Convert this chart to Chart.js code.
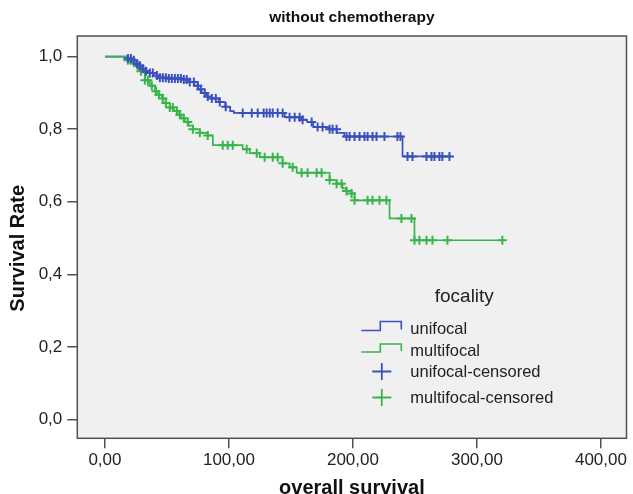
<!DOCTYPE html>
<html>
<head>
<meta charset="utf-8">
<script src="https://cdn.jsdelivr.net/npm/chart.js@4.4.0/dist/chart.umd.min.js"></script>
<style>
  html, body { margin: 0; padding: 0; background: #ffffff; }
  #wrap { width: 633px; height: 494px; }
</style>
</head>
<body>
<div id="wrap"><canvas id="c" width="633" height="494"></canvas></div>
<script>
// ---- data ----
const chartTitle = 'without chemotherapy';
const xTitle = 'overall survival';
const yTitle = 'Survival Rate';
const legendTitle = 'focality';
const seriesNames = ['unifocal', 'multifocal', 'unifocal-censored', 'multifocal-censored'];

const xTicks = [0, 100, 200, 300, 400];
const yTicks = [0, 0.2, 0.4, 0.6, 0.8, 1.0];

// unifocal Kaplan-Meier steps (time, survival after the step)
const uniTimes = [0, 18.5, 21, 24, 27, 30, 33, 36, 39, 43, 50, 62, 68, 72, 75, 78, 82, 86, 92, 97, 101, 104, 145, 158, 163, 168, 180, 187, 193, 240, 279.4];
const uniSurv  = [1, 0.995, 0.99, 0.98, 0.975, 0.967, 0.96, 0.955, 0.948, 0.942, 0.94, 0.937, 0.93, 0.92, 0.91, 0.90, 0.89, 0.885, 0.875, 0.862, 0.85, 0.845, 0.833, 0.826, 0.82, 0.806, 0.80, 0.79, 0.78, 0.725, 0.725];
const uniCensored = [18.5, 20.9, 23.3, 25.8, 28.2, 30.6, 33, 36.2, 38.6, 41.9, 44.3, 46.7, 49.1, 51.5, 53.9, 56.4, 58.8, 61.2, 63.6, 66, 68.4, 71.7, 74.9, 77.3, 80.5, 82.9, 86.2, 89.4, 92.6, 97.4, 111.1, 118.4, 123.2, 128, 130.4, 132.9, 135.3, 139.3, 143.3, 148.9, 153, 157, 159.4, 166.7, 171.5, 175.5, 181.2, 183.6, 186.8, 194.8, 197.3, 201.3, 205.3, 209.3, 211.8, 215.8, 219, 225.4, 235.9, 238.3, 244, 248, 259.3, 263.3, 265.7, 269.7, 272.1, 277.8];

// multifocal Kaplan-Meier steps
const multiTimes = [0, 18.5, 21, 24.2, 28.2, 32.2, 36.2, 40.3, 43, 45.9, 49, 52.3, 55.5, 58.8, 61.5, 64.4, 67.5, 70.9, 76.5, 82.9, 87, 111.1, 116.7, 124.8, 143.3, 148.9, 154.6, 181.2, 186.8, 191.6, 194.8, 198.9, 201.3, 229.5, 249.6, 322];
const multiSurv  = [1, 0.99, 0.983, 0.975, 0.96, 0.935, 0.92, 0.905, 0.895, 0.885, 0.872, 0.86, 0.85, 0.84, 0.83, 0.82, 0.81, 0.80, 0.79, 0.783, 0.756, 0.745, 0.734, 0.723, 0.706, 0.695, 0.68, 0.66, 0.65, 0.637, 0.63, 0.623, 0.604, 0.554, 0.494, 0.494];
const multiCensored = [18.5, 20.9, 23.3, 26.6, 29, 32.2, 34.6, 37.8, 41.1, 43.5, 46.7, 49.1, 52.3, 54.8, 58, 60.4, 63.6, 66.8, 70.9, 76.5, 82.9, 95, 99, 103.1, 114.3, 122.4, 128.8, 135.3, 139.3, 143.3, 151.4, 158.6, 163.4, 170.7, 174.7, 181.2, 186.8, 190.8, 194.8, 198.9, 201.3, 211.8, 215.8, 221.4, 227, 239.1, 247.2, 249.6, 253.6, 259.3, 264.1, 276.2, 320.5];

// ---- styling ----
const BLUE = '#3a50bd';
const GREEN = '#38b54a';
const FONT = '"Liberation Sans", Arial, Helvetica, sans-serif';

function stepAt(times, vals, t) {
  let v = vals[0];
  for (let i = 0; i < times.length; i++) { if (times[i] <= t + 1e-9) v = vals[i]; }
  return v;
}
const toXY = (ts, vs) => ts.map((t, i) => ({ x: t, y: vs[i] }));
const censorXY = (cs, ts, vs) => cs.map(t => ({ x: t, y: stepAt(ts, vs, t) }));

const plotBg = {
  id: 'plotBg',
  beforeDatasetsDraw(chart) {
    const { ctx, chartArea: a } = chart;
    ctx.save();
    ctx.fillStyle = '#f0f0f0';
    ctx.fillRect(a.left, a.top, a.right - a.left, a.bottom - a.top);
    ctx.restore();
  },
  afterDatasetsDraw(chart) {
    const { ctx, chartArea: a } = chart;
    ctx.save();
    ctx.strokeStyle = '#505050';
    ctx.lineWidth = 1.5;
    ctx.strokeRect(a.left, a.top, a.right - a.left, a.bottom - a.top);
    ctx.restore();
  }
};

const kmLegend = {
  id: 'kmLegend',
  afterDraw(chart) {
    const { ctx, chartArea: a } = chart;
    const L = a.left, T = a.top;
    ctx.save();
    ctx.fillStyle = '#222';
    ctx.textBaseline = 'alphabetic';
    ctx.font = '19px ' + FONT;
    ctx.textAlign = 'center';
    ctx.fillText(legendTitle, L + 387, T + 266);
    ctx.textAlign = 'left';
    ctx.font = '16.5px ' + FONT;
    const textX = L + 333;
    const baselines = [298, 320, 341, 367];
    seriesNames.forEach((n, i) => ctx.fillText(n, textX, T + baselines[i]));
    const stepIcon = (color, base, top) => {
      ctx.beginPath();
      ctx.strokeStyle = color;
      ctx.lineWidth = 1.6;
      ctx.moveTo(L + 284, T + base);
      ctx.lineTo(L + 303, T + base);
      ctx.lineTo(L + 303, T + top);
      ctx.lineTo(L + 324, T + top);
      ctx.lineTo(L + 324, T + base - 1);
      ctx.stroke();
    };
    stepIcon(BLUE, 294.5, 285.5);
    stepIcon(GREEN, 316, 308);
    const cross = (color, cy) => {
      ctx.beginPath();
      ctx.strokeStyle = color;
      ctx.lineWidth = 1.8;
      ctx.moveTo(L + 295, T + cy); ctx.lineTo(L + 314, T + cy);
      ctx.moveTo(L + 304.5, T + cy - 8.5); ctx.lineTo(L + 304.5, T + cy + 8.5);
      ctx.stroke();
    };
    cross(BLUE, 335.5);
    cross(GREEN, 361.5);
    ctx.restore();
  }
};

new Chart(document.getElementById('c'), {
  type: 'line',
  data: {
    datasets: [
      { type: 'scatter', label: seriesNames[2], data: censorXY(uniCensored, uniTimes, uniSurv),
        pointStyle: 'cross', pointRadius: 4.5, pointBorderWidth: 2, borderColor: BLUE, backgroundColor: BLUE, showLine: false },
      { label: seriesNames[1], data: toXY(multiTimes, multiSurv), stepped: true,
        borderColor: GREEN, borderWidth: 1.7, pointRadius: 0, fill: false },
      { type: 'scatter', label: seriesNames[3], data: censorXY(multiCensored, multiTimes, multiSurv),
        pointStyle: 'cross', pointRadius: 4.5, pointBorderWidth: 2, borderColor: GREEN, backgroundColor: GREEN, showLine: false },
      { label: seriesNames[0], data: toXY(uniTimes, uniSurv), stepped: true,
        borderColor: BLUE, borderWidth: 1.7, pointRadius: 0, fill: false }
    ]
  },
  options: {
    responsive: false,
    animation: false,
    devicePixelRatio: 1,
    layout: { padding: { left: 0, right: 5.7, top: 0, bottom: 0 } },
    plugins: {
      legend: { display: false },
      tooltip: { enabled: false },
      title: {
        display: true, text: chartTitle, fullSize: false, color: '#111',
        font: { family: FONT, size: 15.5, weight: 'bold', lineHeight: 1.2 },
        padding: { top: 8, bottom: 9.4 }
      }
    },
    scales: {
      x: {
        type: 'linear', min: -22.3, max: 420.6,
        afterFit: s => { s.height = 55.7; },
        afterBuildTicks: s => { s.ticks = xTicks.map(v => ({ value: v })); },
        ticks: { color: '#222', font: { family: FONT, size: 17 }, padding: 2, maxRotation: 0,
                 callback: v => Number(v).toFixed(2).replace('.', ',') },
        grid: { drawOnChartArea: false, drawTicks: true, tickLength: 10, color: '#505050', lineWidth: 1.5 },
        border: { display: false },
        title: { display: true, text: xTitle, color: '#111',
                 font: { family: FONT, size: 20, weight: 'bold', lineHeight: 1.2 },
                 padding: { top: 0, bottom: -6 } }
      },
      y: {
        type: 'linear', min: -0.052, max: 1.057,
        afterFit: s => { s.width = 77.3; },
        afterBuildTicks: s => { s.ticks = yTicks.map(v => ({ value: v })); },
        ticks: { color: '#222', font: { family: FONT, size: 17 }, padding: 5,
                 callback: v => Number(v).toFixed(1).replace('.', ',') },
        grid: { drawOnChartArea: false, drawTicks: true, tickLength: 10, color: '#505050', lineWidth: 1.5 },
        border: { display: false },
        title: { display: true, text: yTitle + '    ', color: '#111',
                 font: { family: FONT, size: 20, weight: 'bold', lineHeight: 1.2 },
                 padding: { top: 6, bottom: 0 } }
      }
    }
  },
  plugins: [plotBg, kmLegend]
});
</script>
</body>
</html>
